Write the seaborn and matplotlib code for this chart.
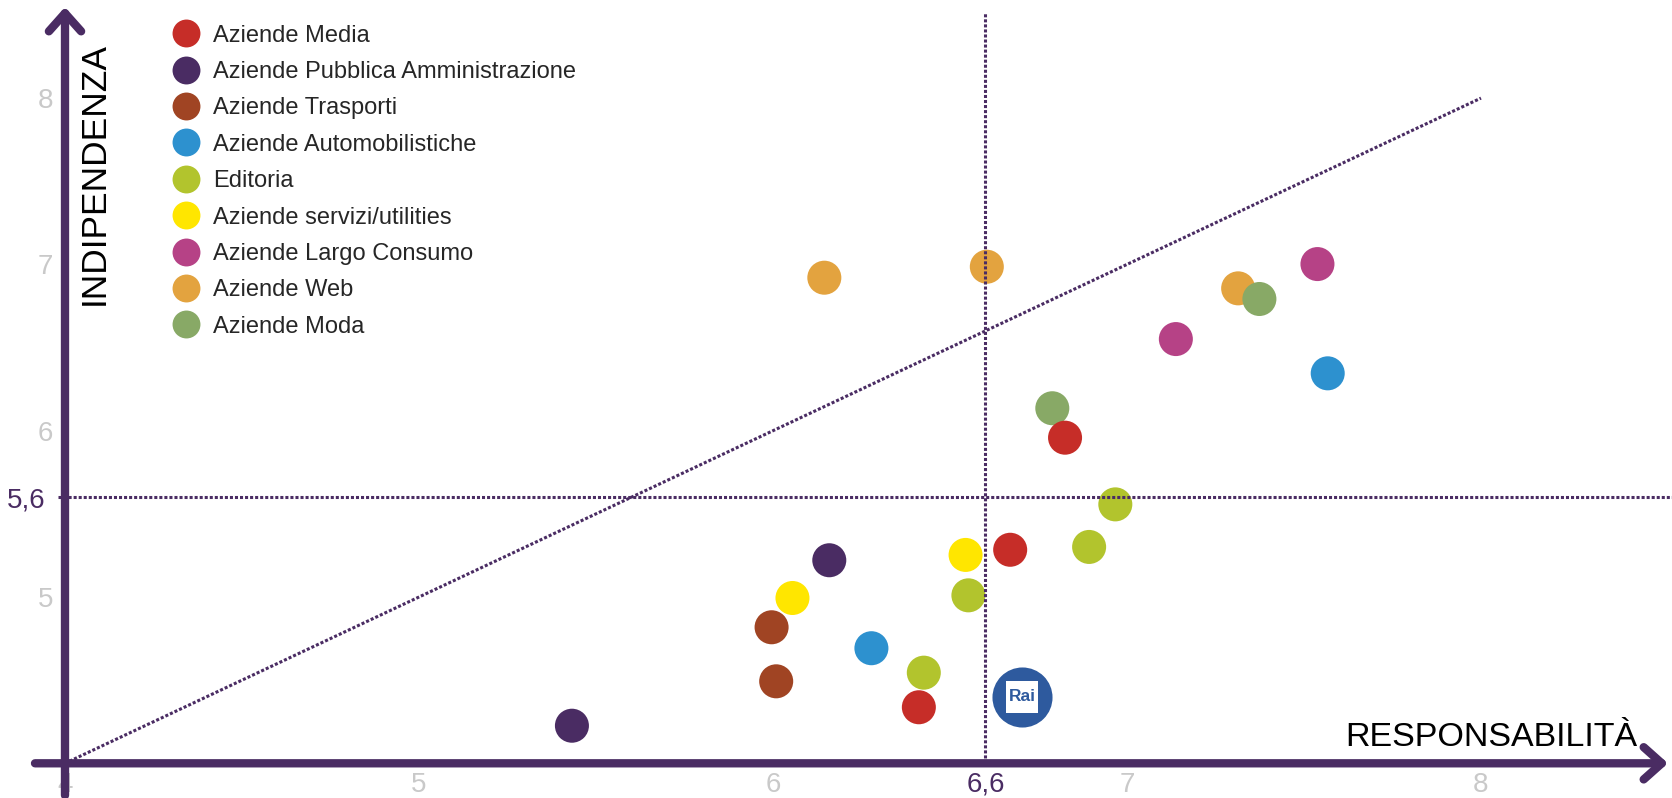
import numpy as np
import pandas as pd
import matplotlib
matplotlib.use("Agg")
import matplotlib.pyplot as plt
import seaborn as sns

# Dati
categorie = ["Aziende Media", "Aziende Pubblica Amministrazione", "Aziende Trasporti",
             "Aziende Automobilistiche", "Editoria", "Aziende servizi/utilities",
             "Aziende Largo Consumo", "Aziende Web", "Aziende Moda"]
colori = ["#c62d28", "#4a2c63", "#a04423", "#2d91cf", "#b2c42d",
          "#ffe600", "#b64286", "#e3a33f", "#88a966"]

settore = ["Aziende Web", "Aziende Web", "Aziende Web",
           "Aziende Moda", "Aziende Moda",
           "Aziende Media", "Aziende Media", "Aziende Media",
           "Aziende Pubblica Amministrazione", "Aziende Pubblica Amministrazione",
           "Aziende Trasporti", "Aziende Trasporti",
           "Aziende Automobilistiche", "Aziende Automobilistiche",
           "Editoria", "Editoria", "Editoria", "Editoria",
           "Aziende servizi/utilities", "Aziende servizi/utilities",
           "Aziende Largo Consumo", "Aziende Largo Consumo"]
responsabilita = [6.145, 6.604, 7.314,
                  6.789, 7.374,
                  6.825, 6.670, 6.412,
                  6.159, 5.432,
                  5.996, 6.009,
                  6.278, 7.567,
                  6.552, 6.426, 6.893, 6.967,
                  6.055, 6.544,
                  7.538, 7.138]
indipendenza = [6.920, 6.986, 6.856,
                6.135, 6.792,
                5.958, 5.284, 4.337,
                5.221, 4.226,
                4.818, 4.493,
                4.692, 6.345,
                5.010, 4.545, 5.301, 5.557,
                4.994, 5.253,
                7.002, 6.551]

rai_x, rai_y = 6.704, 4.400
media_resp = 6.6
media_indip = 5.6

x_ticks = [4, 5, 6, 6.6, 7, 8]
x_labels = ["4", "5", "6", "6,6", "7", "8"]
y_ticks = [5, 5.6, 6, 7, 8]
y_labels = ["5", "5,6", "6", "7", "8"]

df = pd.DataFrame({"settore": settore, "resp": responsabilita, "indip": indipendenza})

viola = "#4a2c63"
grigio = "#c9c9c9"

sns.set_style("white")
plt.rcParams["font.family"] = ["Liberation Sans", "DejaVu Sans"]

W, H = 1672, 798
fig = plt.figure(figsize=(W / 100, H / 100), dpi=100)
x0, y0 = 65, 763.3          # pixel dell'origine (4, 4)
px_x, px_y = 354, 166.3     # pixel per unità
ax = fig.add_axes([x0 / W, (H - y0) / H, (W - x0) / W, y0 / H])
ax.set_xlim(4, 4 + (W - x0) / px_x)
ax.set_ylim(4, 4 + y0 / px_y)

sns.scatterplot(data=df, x="resp", y="indip", hue="settore", hue_order=categorie,
                palette=colori, s=600, linewidth=0, ax=ax, zorder=1)

# Rai
ax.scatter([rai_x], [rai_y], s=1870, color="#2e5a9e", linewidth=0, zorder=4)
ax.scatter([rai_x], [rai_y], s=560, marker="s", color="white", linewidth=0, zorder=5)
ax.text(rai_x, rai_y, "Rai", color="#2e5a9e", fontsize=12.5, fontweight="bold",
        ha="center", va="center", zorder=6)

# linee di riferimento
dot = dict(color=viola, lw=2.2, linestyle=(0, (1, 0.65)), zorder=2)
ax.plot([4, 8], [4, 8], **dot)
ax.plot([4 - 7 / px_x, ax.get_xlim()[1]], [media_indip, media_indip], clip_on=False, **dot)
ax.plot([media_resp, media_resp], [4, 4 + (y0 - 12) / px_y], **dot)

# assi con freccia
freccia = dict(arrowstyle="->,head_length=0.65,head_width=0.58", lw=6, color=viola,
               shrinkA=0, shrinkB=0, mutation_scale=20)
ax.annotate("", xy=(4 + (1668 - x0) / px_x, 4), xytext=(4 - 30 / px_x, 4),
            arrowprops=freccia, annotation_clip=False, zorder=7)
ax.annotate("", xy=(4, 4 + (y0 - 7) / px_y), xytext=(4, 4 - 32 / px_y),
            arrowprops=freccia, annotation_clip=False, zorder=7)

for s in ax.spines.values():
    s.set_visible(False)

ax.set_xticks(x_ticks, labels=x_labels)
ax.set_yticks(y_ticks, labels=y_labels)
ax.tick_params(length=0, labelsize=20, pad=6)
ax.tick_params(axis="y", pad=8.6)
for lbl in ax.get_xticklabels() + ax.get_yticklabels():
    lbl.set_color(viola if "," in lbl.get_text() else grigio)
ax.yaxis.get_major_ticks()[1].set_pad(14.4)

ax.set_xlabel("RESPONSABILITÀ", fontsize=24.5, color="black", va="center")
ax.xaxis.set_label_coords((1491 - x0) / (W - x0), (y0 - 737.5) / y0)
ax.set_ylabel("INDIPENDENZA", fontsize=25.5, color="black", va="center")
ax.yaxis.set_label_coords((94 - x0) / (W - x0), (y0 - 173.5) / y0)

sns.move_legend(ax, "upper left", bbox_to_anchor=(174 / W, 1 - 24.5 / H),
                bbox_transform=fig.transFigure, frameon=False, title=None,
                fontsize=17, markerscale=0.82, labelspacing=0.61,
                handlelength=1.0, handletextpad=0.64, borderpad=0, borderaxespad=0)

fig.savefig("out.png", dpi=100)
